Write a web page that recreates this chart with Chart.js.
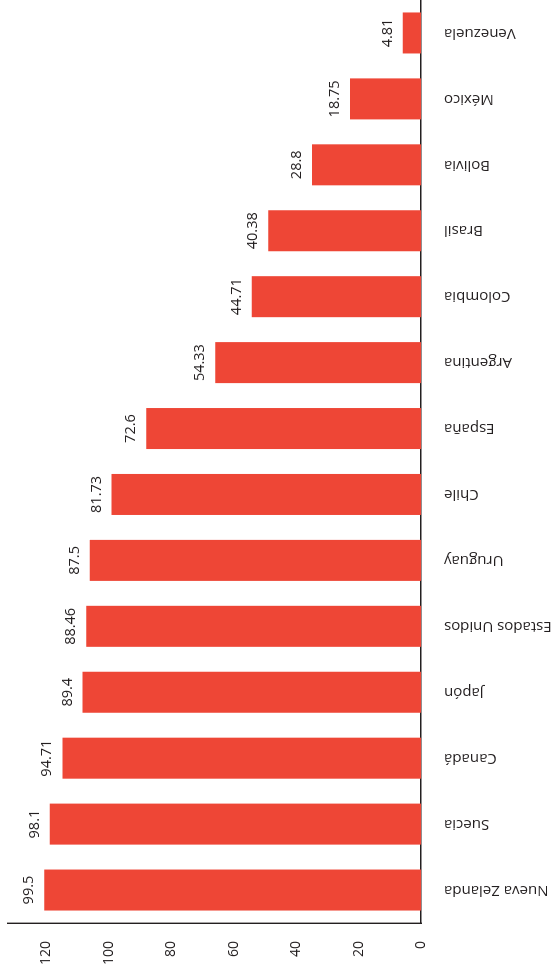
<!DOCTYPE html>
<html>
<head>
<meta charset="utf-8">
<script src="https://cdn.jsdelivr.net/npm/chart.js@4.4.1/dist/chart.umd.min.js"></script>
<style>
  html, body { margin: 0; padding: 0; background: #fff; overflow: hidden; }
  /* The column chart is laid out landscape and turned a quarter-turn counter-clockwise */
  #wrap {
    position: absolute; left: 0; top: 0;
    width: 975px; height: 557px;
    transform-origin: 0 0;
    transform: translateY(975px) rotate(-90deg);
  }
</style>
</head>
<body>
<div id="wrap"><canvas id="c" width="975" height="557"></canvas></div>
<script>
const countries = ['Nueva Zelanda', 'Suecia', 'Canadá', 'Japón', 'Estados Unidos', 'Uruguay', 'Chile',
                   'España', 'Argentina', 'Colombia', 'Brasil', 'Bolivia', 'México', 'Venezuela'];
const scores = [99.5, 98.1, 94.71, 89.4, 88.46, 87.5, 81.73, 72.6, 54.33, 44.71, 40.38, 28.8, 18.75, 4.81];
const tickLabels = ['0', '20', '40', '60', '80', '100', '120'];

const INK = '#231f20';
const BAR = '#ee4636';
const FONT = '"Open Sans", "Noto Sans", sans-serif';

// Writes each score just above its bar
const valueLabels = {
  id: 'valueLabels',
  afterDatasetsDraw(chart) {
    const ctx = chart.ctx;
    const meta = chart.getDatasetMeta(0);
    ctx.save();
    ctx.font = '14.5px ' + FONT;
    ctx.fillStyle = INK;
    ctx.textAlign = 'center';
    ctx.textBaseline = 'alphabetic';
    meta.data.forEach((bar, i) => {
      ctx.fillText(String(scores[i]), bar.x, bar.y - 11);
    });
    ctx.restore();
  }
};

// Let the plot run right up to the canvas edges (no room reserved for overhanging labels)
function noEdgePadding(scale) {
  scale.paddingLeft = 0;
  scale.paddingRight = 0;
  scale.paddingTop = 0;
  scale.paddingBottom = 0;
}

new Chart(document.getElementById('c'), {
  type: 'bar',
  data: {
    labels: countries,
    datasets: [{
      data: scores,
      backgroundColor: BAR,
      borderWidth: 0,
      barPercentage: 0.622,
      categoryPercentage: 1
    }]
  },
  options: {
    responsive: false,
    animation: false,
    events: [],
    layout: { padding: { top: 8, left: 0, right: 0, bottom: 0 } },
    plugins: { legend: { display: false }, tooltip: { enabled: false } },
    scales: {
      x: {
        grid: { display: false, drawTicks: false },
        border: { display: true, color: INK, width: 1.4 },
        ticks: {
          autoSkip: false,
          minRotation: 90, maxRotation: 90,
          padding: 23,
          color: INK,
          font: { family: FONT, size: 15 }
        },
        afterFit(scale) { scale.height = 136; noEdgePadding(scale); }
      },
      y: {
        min: 0,
        max: 109.1,
        grid: { display: false, drawTicks: false },
        border: { display: true, color: INK, width: 1.4 },
        ticks: {
          stepSize: 16.5,
          autoSkip: false,
          padding: 18,
          color: INK,
          font: { family: FONT, size: 14 },
          callback: (v, i) => (i < tickLabels.length ? tickLabels[i] : '')
        },
        afterFit(scale) { scale.width = 52; noEdgePadding(scale); }
      }
    }
  },
  plugins: [valueLabels]
});
</script>
</body>
</html>
